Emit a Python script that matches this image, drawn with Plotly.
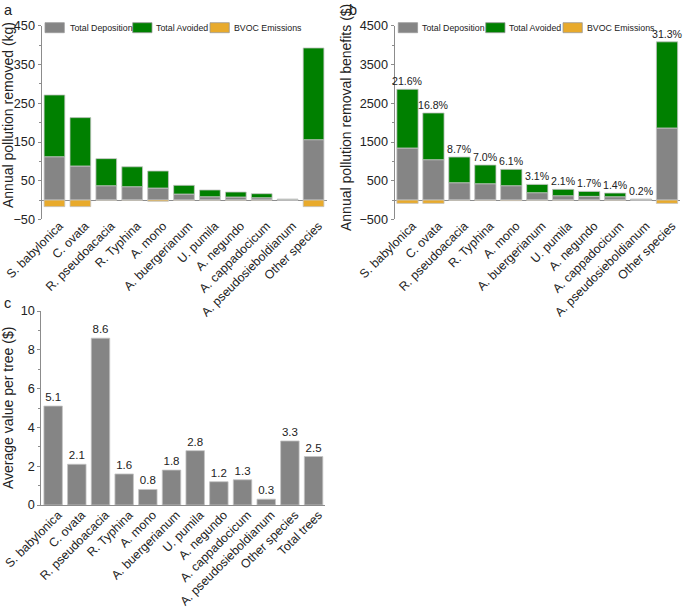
import plotly.graph_objects as go

# ---------------- data ----------------
SPECIES = ["S. babylonica", "C. ovata", "R. pseudoacacia", "R. Typhina", "A. mono",
           "A. buergerianum", "U. pumila", "A. negundo", "A. cappadocicum",
           "A. pseudosieboldianum", "Other species"]
SERIES = ["Total Deposition", "Total Avoided", "BVOC Emissions"]

KG_DEPOSITION = [112, 88, 37, 34.5, 31, 15.5, 8.6, 7.8, 6, 1.5, 156]
KG_AVOIDED = [159.5, 125, 70, 51.5, 44, 22.5, 17.4, 12.9, 10.4, 1.1, 237]
KG_BVOC = [-17, -17, -0.5, -0.3, -3.4, -1, -0.3, -0.3, -0.3, -0.1, -17]

USD_DEPOSITION = [1345, 1043, 448, 422, 371, 190, 112, 95, 86, 15, 1862]
USD_AVOIDED = [1517, 1207, 664, 483, 422, 215, 164, 129, 95, 11, 2226]
USD_BVOC = [-86, -86, -3, -2, -15, -5, -2, -2, -2, -1, -86]
PCT_LABELS = ["21.6%", "16.8%", "8.7%", "7.0%", "6.1%", "3.1%", "2.1%", "1.7%",
              "1.4%", "0.2%", "31.3%"]

PER_TREE_CATS = SPECIES + ["Total trees"]
PER_TREE_VALUES = [5.1, 2.1, 8.6, 1.6, 0.8, 1.8, 2.8, 1.2, 1.3, 0.3, 3.3, 2.5]

# ---------------- style ----------------
W, H = 685, 613
FONT = "Liberation Sans, Arial, sans-serif"
COLORS = ["#858585", "#008000", "#E8AA2C"]
EDGE = "#c4c4c4"
AXIS = "#8c8c8c"


def px(x):
    return x / W


def py(y):
    return 1 - y / H


fig = go.Figure()

# Panel a
for name, vals, col in zip(SERIES, [KG_DEPOSITION, KG_AVOIDED, KG_BVOC], COLORS):
    fig.add_trace(go.Bar(x=SPECIES, y=vals, name=name, marker_color=col,
                         marker_line=dict(color=EDGE, width=0.8), width=0.8,
                         xaxis="x", yaxis="y", showlegend=False))

# Panel b
for name, vals, col in zip(SERIES, [USD_DEPOSITION, USD_AVOIDED, USD_BVOC], COLORS):
    fig.add_trace(go.Bar(x=SPECIES, y=vals, name=name, marker_color=col,
                         marker_line=dict(color=EDGE, width=0.8), width=0.82,
                         xaxis="x2", yaxis="y2", showlegend=False))
usd_tops = [d + a for d, a in zip(USD_DEPOSITION, USD_AVOIDED)]

# Panel c
fig.add_trace(go.Bar(x=PER_TREE_CATS, y=PER_TREE_VALUES, marker_color="#858585",
                     marker_line=dict(color=EDGE, width=0.8), width=0.78,
                     text=[f"{v:.1f}" for v in PER_TREE_VALUES], textposition="outside",
                     textfont=dict(family=FONT, size=11.5, color="#222"),
                     cliponaxis=False, xaxis="x3", yaxis="y3", showlegend=False))

tickfont = dict(family=FONT, size=12.7, color="#222")
xtickfont = dict(family=FONT, size=12.3, color="#222")

common_x = dict(type="category", tickangle=-45, showline=False, ticks="",
                showgrid=False, zeroline=False, tickfont=xtickfont, automargin=False,
                ticklabelstandoff=-4, ticklabelshift=5)
common_y = dict(showline=True, linecolor=AXIS, linewidth=1, ticks="outside",
                ticklen=3, tickcolor=AXIS, showgrid=False, tickfont=tickfont,
                automargin=False)

fig.update_layout(
    width=W, height=H, margin=dict(l=0, r=0, t=0, b=0),
    paper_bgcolor="white", plot_bgcolor="white",
    barmode="relative", font=dict(family=FONT, color="#222"),
    xaxis=dict(domain=[px(41.5), px(326.5)], anchor="y", range=[-0.5, 10.5], **common_x),
    yaxis=dict(domain=[py(219.4), py(25.9)], anchor="x", range=[-50, 450],
               tick0=-50, dtick=100, zeroline=True, zerolinecolor=AXIS, zerolinewidth=1,
               minor=dict(ticks="outside", ticklen=2, dtick=50, tick0=0, tickcolor=AXIS),
               **common_y),
    xaxis2=dict(domain=[px(394.5), px(680)], anchor="y2", range=[-0.5, 10.5], **common_x),
    yaxis2=dict(domain=[py(219.4), py(25.9)], anchor="x2", range=[-500, 4500],
                tick0=-500, dtick=1000, zeroline=True, zerolinecolor=AXIS, zerolinewidth=1,
                minor=dict(ticks="outside", ticklen=2, dtick=500, tick0=0, tickcolor=AXIS),
                **common_y),
    xaxis3=dict(domain=[px(41.3), px(325.4)], anchor="y3", range=[-0.5, 11.5],
                type="category", tickangle=-45, showline=True, linecolor=AXIS, linewidth=1,
                ticks="", showgrid=False, zeroline=False, tickfont=xtickfont, automargin=False,
                ticklabelstandoff=-3, ticklabelshift=5),
    yaxis3=dict(domain=[py(505), py(311)], anchor="x3", range=[0, 10], dtick=2,
                zeroline=False,
                minor=dict(ticks="outside", ticklen=2, dtick=1, tickcolor=AXIS),
                **common_y),
)

annotations = []
shapes = []

# percentage labels above panel b bars (positioned by the data values)
for sp, top, lab in zip(SPECIES, usd_tops, PCT_LABELS):
    annotations.append(dict(text=lab, x=sp, y=top, xref="x2", yref="y2",
                            xanchor="center", yanchor="bottom", showarrow=False,
                            font=dict(family=FONT, size=10.6, color="#222")))

# panel letters
for letter, x, y in [("a", 2, 0), ("b", 347, 0), ("c", 2, 293)]:
    annotations.append(dict(text=letter, x=px(x), y=py(y), xref="paper", yref="paper",
                            xanchor="left", yanchor="top", showarrow=False,
                            font=dict(family=FONT, size=14.5, color="#222")))

# y-axis titles
for title, x, y in [("Annual pollution removed (kg)", 8, 115),
                    ("Annual pollution removal benefits ($)", 346, 118),
                    ("Average value per tree ($)", 8, 408)]:
    annotations.append(dict(text=title, x=px(x), y=py(y), xref="paper", yref="paper",
                            xanchor="center", yanchor="middle", textangle=-90,
                            showarrow=False, font=dict(family=FONT, size=14, color="#222")))

# legends (swatch x-starts, text x-starts in px)
legend_specs = [
    ([45, 132.7, 210], [67.7, 154, 232.3]),
    ([398.3, 485.7, 563], [420, 507.3, 585]),
]
for swatch_x, text_x in legend_specs:
    for name, col, sx, tx in zip(SERIES, COLORS, swatch_x, text_x):
        shapes.append(dict(type="rect", xref="paper", yref="paper",
                           x0=px(sx), x1=px(sx + 19.3), y0=py(32.7), y1=py(22.7),
                           fillcolor=col, line=dict(color="#9a9a9a", width=0.8)))
        annotations.append(dict(text=name, x=px(tx), y=py(27.8), xref="paper", yref="paper",
                                xanchor="left", yanchor="middle", showarrow=False,
                                font=dict(family=FONT, size=8.8, color="#222")))

fig.update_layout(annotations=annotations, shapes=shapes)

# remove the browser's default 8px body margin so the figure fills the window
fig.write_html("out.html", config={"displayModeBar": False},
               post_script="document.body.style.margin='0';document.body.style.overflow='hidden';")
